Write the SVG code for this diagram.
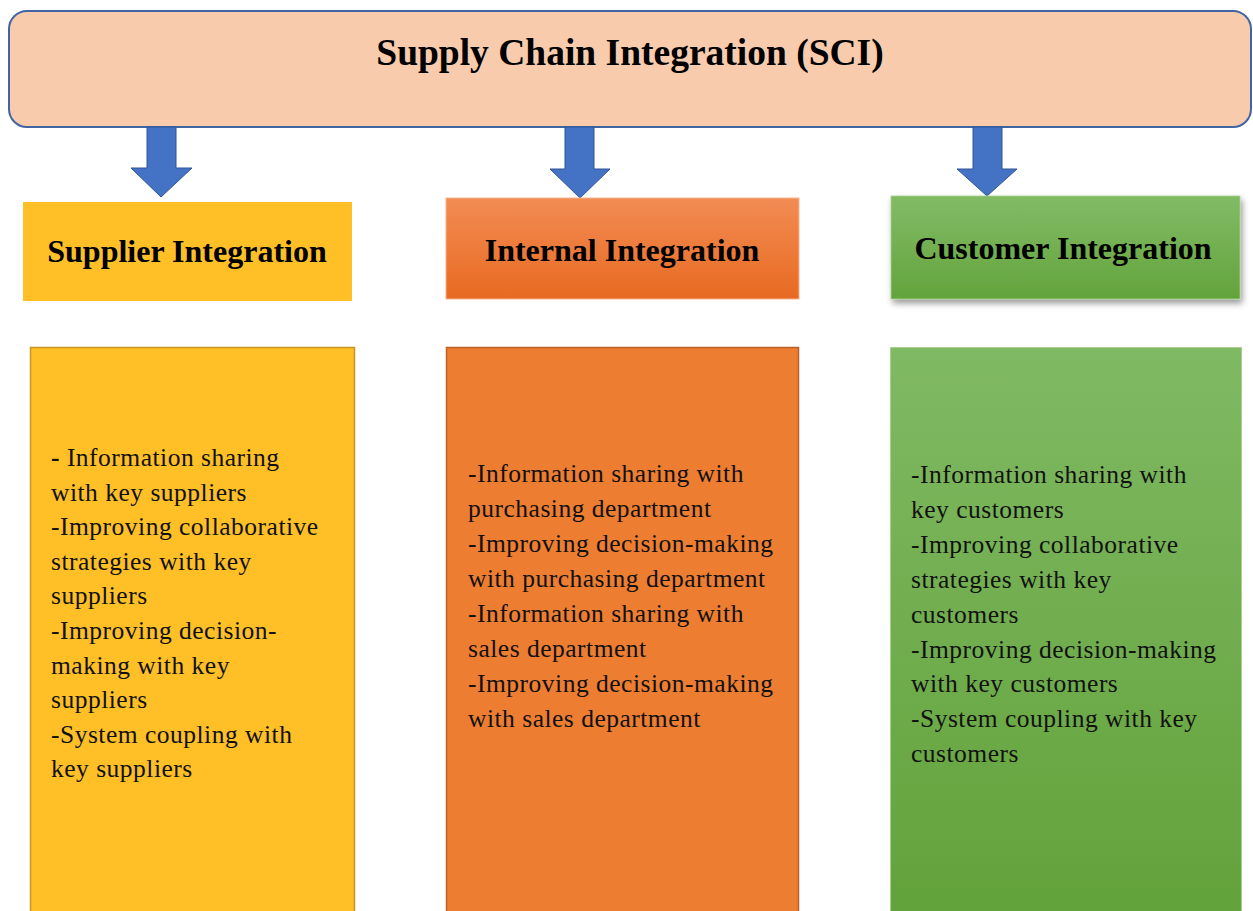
<svg xmlns="http://www.w3.org/2000/svg" width="1253" height="911" viewBox="0 0 1253 911">
  <style>
    .title { font-family: "Liberation Serif", "Times New Roman", serif; font-weight: bold; font-size: 37.5px; fill: #000; }
    .head { font-family: "Liberation Serif", "Times New Roman", serif; font-weight: bold; font-size: 32px; fill: #000; }
    .body { font-family: "Liberation Serif", "Times New Roman", serif; font-size: 25.5px; letter-spacing: 0.5px; fill: #111; }
    .arrow { fill: #4472C4; stroke: #2F5597; stroke-width: 1; stroke-linejoin: miter; }
  </style>
  <defs>
    <linearGradient id="gradOrangeHead" x1="0" y1="0" x2="0" y2="1">
      <stop offset="0" stop-color="#F28C54"/>
      <stop offset="1" stop-color="#E86A21"/>
    </linearGradient>
    <linearGradient id="gradGreenHead" x1="0" y1="0" x2="0" y2="1">
      <stop offset="0" stop-color="#82BB66"/>
      <stop offset="1" stop-color="#63A43C"/>
    </linearGradient>
    <linearGradient id="gradGreenBody" x1="0" y1="0" x2="0" y2="1">
      <stop offset="0" stop-color="#80B963"/>
      <stop offset="1" stop-color="#62A23A"/>
    </linearGradient>
    <filter id="shadow" x="-10%" y="-20%" width="125%" height="150%">
      <feDropShadow dx="2" dy="4" stdDeviation="3" flood-color="#000" flood-opacity="0.4"/>
    </filter>
  </defs>

  <rect width="1253" height="911" fill="#FFFFFF"/>

  <!-- top node -->
  <g id="sci">
    <rect x="9" y="11" width="1242" height="116" rx="18" ry="18" fill="#F8CBAD" stroke="#3F65A3" stroke-width="2"/>
    <text class="title" x="630" y="65" text-anchor="middle">Supply Chain Integration (SCI)</text>
  </g>

  <!-- block arrows from SCI to the three integration headers -->
  <g id="connectors">
    <polygon class="arrow" points="147,127 176,127 176,168 192,168 161,197 131,168 147,168"/>
    <polygon class="arrow" points="565,127 594,127 594,169 610,169 580,198 550,169 565,169"/>
    <polygon class="arrow" points="973,127 1002,127 1002,169 1017,169 987,196 957,169 973,169"/>
  </g>

  <!-- supplier column -->
  <g id="supplier-head">
    <rect x="23" y="202" width="329" height="99" fill="#FEBF27"/>
    <text class="head" x="187" y="262" text-anchor="middle">Supplier Integration</text>
  </g>
  <g id="supplier-body">
    <rect x="30.5" y="347.5" width="324" height="570" fill="#FEBF27" stroke="#C8961E" stroke-width="1.5"/>
    <text class="body">
      <tspan x="51" y="466" font-weight="bold">-</tspan><tspan> Information sharing</tspan>
      <tspan x="51" y="500.6">with key suppliers</tspan>
      <tspan x="51" y="535.2">-Improving collaborative</tspan>
      <tspan x="51" y="569.8">strategies with key</tspan>
      <tspan x="51" y="604.4">suppliers</tspan>
      <tspan x="51" y="639">-Improving decision-</tspan>
      <tspan x="51" y="673.6">making with key</tspan>
      <tspan x="51" y="708.2">suppliers</tspan>
      <tspan x="51" y="742.8">-System coupling with</tspan>
      <tspan x="51" y="777.4">key suppliers</tspan>
    </text>
  </g>

  <!-- internal column -->
  <g id="internal-head">
    <rect x="446" y="198" width="353" height="101" fill="url(#gradOrangeHead)" stroke="#F6B48E" stroke-width="1"/>
    <text class="head" x="622" y="261" text-anchor="middle">Internal Integration</text>
  </g>
  <g id="internal-body">
    <rect x="446.5" y="347.5" width="352" height="570" fill="#ED7D31" stroke="#BC6128" stroke-width="1.5"/>
    <text class="body">
      <tspan x="468" y="481.5">-Information sharing with</tspan>
      <tspan x="468" y="516.5">purchasing department</tspan>
      <tspan x="468" y="551.5">-Improving decision-making</tspan>
      <tspan x="468" y="586.5">with purchasing department</tspan>
      <tspan x="468" y="621.5">-Information sharing with</tspan>
      <tspan x="468" y="656.5">sales department</tspan>
      <tspan x="468" y="691.5">-Improving decision-making</tspan>
      <tspan x="468" y="726.5">with sales department</tspan>
    </text>
  </g>

  <!-- customer column -->
  <g id="customer-head">
    <rect x="891" y="196" width="349" height="103" fill="url(#gradGreenHead)" stroke="#A9D18E" stroke-width="0.8" filter="url(#shadow)"/>
    <text class="head" x="1063" y="259" text-anchor="middle">Customer Integration</text>
  </g>
  <g id="customer-body">
    <rect x="890.5" y="347.5" width="351" height="570" fill="url(#gradGreenBody)" stroke="#A9D18E" stroke-width="1"/>
    <text class="body">
      <tspan x="911" y="483">-Information sharing with</tspan>
      <tspan x="911" y="517.9">key customers</tspan>
      <tspan x="911" y="552.8">-Improving collaborative</tspan>
      <tspan x="911" y="587.7">strategies with key</tspan>
      <tspan x="911" y="622.6">customers</tspan>
      <tspan x="911" y="657.5">-Improving decision-making</tspan>
      <tspan x="911" y="692.4">with key customers</tspan>
      <tspan x="911" y="727.3">-System coupling with key</tspan>
      <tspan x="911" y="762.2">customers</tspan>
    </text>
  </g>
</svg>
